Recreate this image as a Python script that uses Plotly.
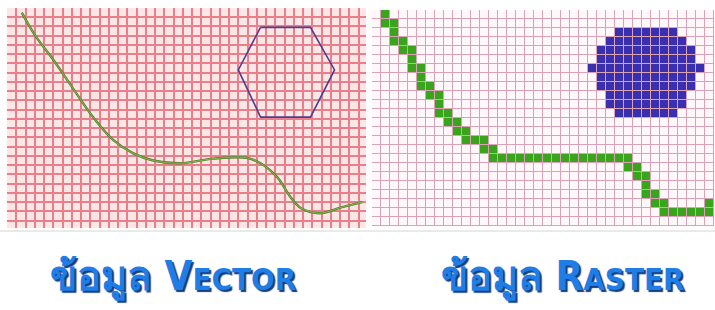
import plotly.graph_objects as go

# ---- vector panel data (grid units, y grows downward) ----
curve_x = [1.6, 3.0, 5.0, 7.0, 9.3, 11.5, 13.6, 15.8, 18.7, 22.3, 25.9, 27.4, 29.2, 30.6, 31.7, 33.8, 36.0, 38.4]
curve_y = [0.5, 2.9, 5.6, 8.5, 11.8, 14.3, 15.7, 16.5, 16.8, 16.3, 16.2, 16.8, 18.3, 20.4, 21.6, 22.2, 21.6, 21.0]
hex_x = [27.4, 32.8, 35.4, 32.8, 27.4, 25.0, 27.4]
hex_y = [2.1, 2.1, 6.7, 11.8, 11.8, 6.7, 2.1]

# ---- raster panel data: (row, first col, last col) runs ----
n_cols, n_rows = 38, 24
green_runs = [(0, 1, 1), (1, 1, 2), (2, 2, 2), (3, 2, 3), (4, 3, 4), (5, 4, 4), (6, 4, 5),
              (7, 5, 5), (8, 5, 6), (9, 6, 7), (10, 7, 7), (11, 7, 8), (12, 8, 9),
              (13, 9, 10), (14, 10, 12), (15, 12, 13), (16, 13, 28), (17, 28, 29),
              (18, 29, 30), (19, 30, 30), (20, 30, 31), (21, 31, 32), (21, 37, 37), (22, 32, 37)]
blue_runs = [(2, 27, 33), (3, 26, 34), (4, 25, 35), (5, 25, 35), (6, 24, 36),
             (7, 25, 35), (8, 25, 35), (9, 26, 34), (10, 26, 34), (11, 27, 33)]

labels = ["ข้อมูล V<span style='font-size:31px'>ECTOR</span>",
          "ข้อมูล R<span style='font-size:31px'>ASTER</span>"]

z = [[0] * n_cols for _ in range(n_rows)]
for r, a, b in green_runs:
    for c in range(a, b + 1):
        z[r][c] = 1
for r, a, b in blue_runs:
    for c in range(a, b + 1):
        z[r][c] = 2

W, H = 715, 310
fig = go.Figure()

fig.add_trace(go.Scatter(x=curve_x, y=curve_y, mode="lines", line=dict(color="#557f30", width=2.4, shape="spline"),
                         xaxis="x", yaxis="y", hoverinfo="skip"))
fig.add_trace(go.Scatter(x=curve_x, y=curve_y, mode="lines", line=dict(color="#8ccc50", width=0.8, shape="spline"),
                         xaxis="x", yaxis="y", hoverinfo="skip"))
fig.add_trace(go.Scatter(x=hex_x, y=hex_y, mode="lines", line=dict(color="#4b3f8f", width=1.6),
                         xaxis="x", yaxis="y", hoverinfo="skip"))

fig.add_trace(go.Heatmap(z=z, x=list(range(n_cols)), y=list(range(n_rows)), xaxis="x2", yaxis="y2",
                         colorscale=[[0, "#fff7f9"], [0.33, "#fff7f9"], [0.34, "#3aa51c"], [0.66, "#3aa51c"],
                                     [0.67, "#3a2fae"], [1, "#3a2fae"]],
                         zmin=0, zmax=2, showscale=False, xgap=1, ygap=1, hoverinfo="skip"))

L = dict(x0=7, x1=366, y0=8, y1=228)
R = dict(x0=372, x1=714, y0=10, y1=226)

grid_common = dict(showticklabels=False, ticks="", zeroline=False, showline=False, fixedrange=True)
fig.update_layout(
    width=W, height=H, margin=dict(l=0, r=0, t=0, b=0),
    paper_bgcolor="white", plot_bgcolor="#d9a2b6", showlegend=False,
    xaxis=dict(domain=[L["x0"] / W, L["x1"] / W], range=[0, 38.8], dtick=1, tick0=0,
               showgrid=True, gridcolor="#e87f8a", gridwidth=1.6, **grid_common),
    yaxis=dict(domain=[1 - L["y1"] / H, 1 - L["y0"] / H], range=[23.8, 0], dtick=1, tick0=0,
               showgrid=True, gridcolor="#e87f8a", gridwidth=1.6, **grid_common),
    xaxis2=dict(domain=[R["x0"] / W, R["x1"] / W], range=[-0.5, n_cols - 0.5], showgrid=False, **grid_common),
    yaxis2=dict(domain=[1 - R["y1"] / H, 1 - R["y0"] / H], range=[n_rows - 0.5, -0.5], showgrid=False,
                **grid_common),
)

# pink background of the vector panel (below its grid lines)
fig.add_shape(type="rect", xref="x", yref="y", x0=0, x1=38.8, y0=0, y1=23.8, layer="below",
              fillcolor="#fde6e6", line=dict(width=0))
# thin grey divider under panels
fig.add_shape(type="line", xref="paper", yref="paper", x0=0, x1=1, y0=1 - 231 / H, y1=1 - 231 / H,
              line=dict(color="#d4d4d4", width=1))

for txt, cx in zip(labels, [173, 562]):
    fig.add_annotation(x=cx / W, y=1 - 277 / H, xref="paper", yref="paper", text=txt, showarrow=False,
                       xanchor="center", yanchor="middle",
                       font=dict(family="DejaVu Sans Condensed, sans-serif", size=40,
                                 color="#1f7de8", weight="bold", shadow="2px 2px 1px #143d7a"))

fig.write_html("out.html", config={"displayModeBar": False},
               post_script="document.body.style.margin='0';document.body.style.overflow='hidden';")
